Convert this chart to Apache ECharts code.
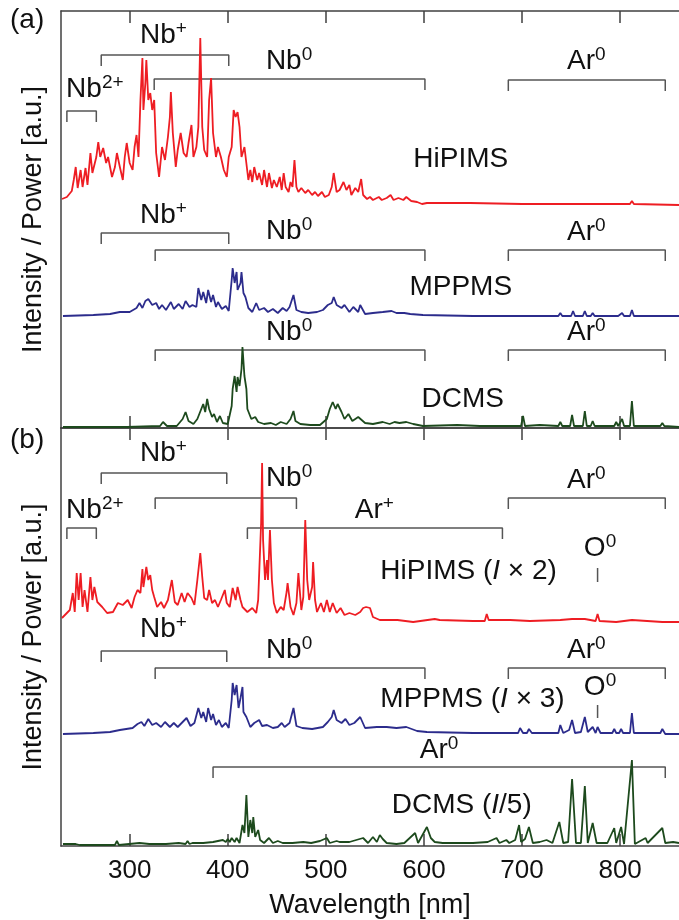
<!DOCTYPE html>
<html>
<head>
<meta charset="utf-8">
<title>Optical emission spectra: HiPIMS, MPPMS, DCMS</title>
<script src="https://cdn.jsdelivr.net/npm/echarts@6/dist/echarts.min.js"></script>
<style>
  html, body { margin: 0; padding: 0; background: #ffffff; }
  #chart { width: 679px; height: 920px; }
</style>
</head>
<body>
<div id="chart"></div>
<script>
// ---- Wavelength axis ----
const WL_MIN = 230;
const WL_MAX = 860;
const wlTicks = [300, 400, 500, 600, 700, 800];

// ---- Spectra: [wavelength nm, intensity a.u. above the trace's own baseline] ----
// Panel (a): intensity normalised by power
const hipimsA = [[231,6],[236,8],[241,14],[243,25],[245,38],[247,17],[250,35],[252,18],[255,37],[257,20],[260,52],[262,32],[266,48],[268,63],[270,48],[273,57],[276,42],[278,48],[282,28],[285,38],[287,52],[290,38],[293,25],[295,48],[297,62],[300,42],[303,35],[305,58],[307,70],[309,48],[311,105],[313,147],[314,95],[316,122],[317,145],[319,105],[321,112],[323,95],[325,105],[327,52],[330,28],[333,58],[336,45],[339,68],[341,88],[342,113],[344,72],[347,38],[349,55],[352,72],[355,52],[358,48],[360,62],[363,80],[365,48],[368,58],[370,78],[372,167],[374,78],[376,55],[379,48],[381,105],[383,127],[385,72],[388,48],[390,58],[393,48],[396,35],[399,28],[401,48],[404,58],[406,95],[408,88],[410,93],[412,78],[414,48],[417,58],[421,25],[423,35],[425,23],[427,38],[430,25],[432,32],[435,20],[437,35],[440,18],[442,32],[445,17],[447,25],[450,18],[453,28],[455,15],[457,32],[459,18],[462,13],[464,23],[466,18],[468,45],[470,18],[472,13],[475,17],[479,12],[482,15],[486,10],[489,13],[492,9],[496,13],[499,8],[503,10],[506,18],[508,32],[511,13],[514,15],[518,23],[521,15],[524,20],[526,10],[530,17],[533,13],[536,26],[538,10],[542,6],[545,8],[548,5],[554,8],[557,5],[562,7],[566,10],[569,5],[574,7],[579,5],[582,8],[587,4],[593,3],[598,1],[603,2],[647,2],[700,1],[750,1],[752,3],[754,1],[762,1],[764,3],[766,1],[810,1],[812,4],[814,1],[860,0]];
const mppmsA = [[232,0],[263,1],[280,2],[290,4],[300,4],[307,8],[310,13],[313,8],[316,15],[319,17],[323,11],[327,13],[330,7],[333,11],[337,6],[342,14],[345,7],[350,12],[354,7],[357,15],[361,9],[364,11],[368,9],[370,28],[373,16],[375,24],[378,13],[380,26],[383,14],[385,21],[388,9],[390,14],[394,7],[398,10],[401,5],[404,36],[405,48],[407,33],[409,44],[410,26],[413,33],[414,44],[416,23],[418,19],[421,8],[425,4],[429,13],[432,6],[437,8],[441,4],[446,7],[451,3],[456,8],[460,5],[463,9],[467,21],[470,6],[475,4],[482,3],[491,4],[497,6],[502,11],[506,13],[508,19],[511,11],[516,8],[519,11],[524,4],[528,9],[533,4],[535,11],[540,2],[548,3],[558,4],[567,5],[572,3],[580,3],[586,2],[599,1],[650,0],[696,0],[698,1],[700,0],[706,0],[708,1],[710,0],[737,0],[739,3],[741,0],[750,0],[752,5],[754,0],[762,0],[764,5],[766,0],[770,0],[772,3],[774,0],[794,0],[796,2],[798,0],[800,0],[802,3],[804,0],[810,0],[812,6],[814,0],[841,0],[843,1],[845,0],[860,0]];
const dcmsA = [[232,0],[297,0],[331,1],[334,5],[338,1],[348,1],[354,8],[357,15],[360,6],[365,3],[369,8],[373,18],[375,23],[377,15],[379,28],[381,18],[384,10],[386,13],[389,5],[392,11],[395,4],[400,3],[404,21],[405,38],[407,51],[409,35],[410,50],[412,41],[414,58],[415,80],[417,51],[419,38],[420,18],[424,8],[428,10],[431,5],[437,3],[444,4],[449,2],[454,5],[460,3],[464,8],[467,16],[469,6],[474,3],[484,2],[494,2],[501,8],[504,18],[507,25],[510,18],[512,23],[516,15],[519,8],[523,13],[527,6],[533,10],[535,11],[540,4],[548,3],[558,5],[565,3],[570,5],[575,4],[582,5],[589,3],[599,1],[634,2],[657,1],[699,1],[701,11],[703,1],[718,2],[737,1],[739,5],[741,1],[749,1],[751,12],[753,1],[762,1],[764,16],[766,1],[770,1],[772,6],[774,1],[794,1],[796,5],[798,1],[800,1],[802,8],[804,1],[810,1],[812,26],[814,1],[841,1],[843,4],[845,1],[860,0]];

// Panel (b): absolute intensity, scaled as labelled
const hipimsB = [[231,4],[236,9],[239,12],[242,29],[244,10],[246,49],[248,22],[250,49],[252,15],[254,32],[257,10],[260,45],[262,22],[264,35],[267,20],[272,15],[277,9],[283,10],[288,19],[293,17],[298,22],[302,14],[305,25],[308,32],[311,29],[313,53],[314,35],[317,55],[319,42],[321,47],[323,32],[325,25],[328,15],[332,20],[335,14],[339,22],[343,42],[346,20],[349,17],[353,29],[356,20],[359,29],[363,24],[366,17],[369,42],[372,69],[374,45],[376,24],[379,22],[381,32],[384,19],[387,22],[390,15],[393,22],[397,32],[399,19],[402,15],[405,34],[408,22],[410,35],[413,22],[415,15],[420,10],[425,14],[429,9],[431,22],[434,99],[435,159],[436,82],[438,42],[440,62],[441,42],[443,92],[445,42],[447,19],[450,9],[454,15],[457,12],[460,30],[461,39],[464,15],[467,7],[470,19],[472,49],[475,12],[477,25],[479,102],[481,42],[483,22],[486,35],[487,60],[489,22],[491,10],[495,19],[498,10],[501,22],[504,10],[507,19],[511,9],[515,14],[519,7],[524,9],[530,7],[535,10],[538,14],[541,15],[545,14],[548,5],[555,2],[573,2],[589,0],[611,3],[616,2],[650,1],[662,1],[664,8],[666,2],[688,2],[708,1],[739,2],[751,3],[764,3],[775,1],[777,8],[779,1],[796,0],[812,2],[843,0],[860,0]];
const mppmsB = [[232,0],[263,1],[280,2],[290,4],[303,6],[308,10],[312,12],[315,8],[319,15],[323,9],[327,11],[332,7],[336,12],[341,7],[345,11],[349,7],[354,12],[358,16],[362,8],[366,11],[370,26],[373,16],[375,22],[378,12],[380,26],[383,14],[385,20],[388,9],[391,14],[394,7],[398,11],[401,6],[404,34],[405,51],[407,39],[409,49],[411,26],[413,36],[415,47],[416,22],[419,17],[423,7],[427,11],[432,14],[435,8],[440,9],[446,6],[451,7],[455,11],[458,7],[463,11],[467,26],[470,8],[476,6],[486,5],[497,7],[502,12],[506,17],[508,24],[511,14],[516,11],[520,15],[524,9],[529,11],[535,17],[540,6],[552,7],[562,7],[572,6],[582,7],[593,3],[603,2],[650,1],[684,1],[696,1],[698,6],[701,1],[705,1],[707,5],[710,1],[737,1],[739,9],[742,1],[748,4],[751,14],[754,1],[760,2],[764,17],[767,2],[772,7],[775,1],[777,7],[780,1],[792,1],[794,5],[796,1],[799,1],[801,5],[803,1],[810,1],[812,21],[814,1],[827,1],[841,1],[843,5],[846,0],[860,0]];
const dcmsB = [[232,1],[245,1],[247,2],[249,0],[262,0],[264,2],[266,0],[285,0],[287,4],[289,0],[310,2],[320,1],[337,1],[350,2],[357,1],[359,4],[361,1],[364,2],[375,2],[385,3],[395,5],[398,3],[400,6],[402,3],[404,7],[407,3],[409,7],[412,2],[415,20],[417,12],[419,50],[421,8],[423,25],[425,12],[426,28],[428,8],[431,15],[433,5],[437,2],[442,7],[446,2],[451,4],[456,2],[466,2],[477,3],[485,2],[494,4],[501,7],[504,2],[511,4],[514,3],[524,3],[538,7],[543,2],[548,8],[552,3],[555,10],[558,6],[562,2],[572,1],[580,2],[591,12],[594,2],[603,18],[607,7],[611,3],[619,2],[634,2],[650,2],[665,3],[674,7],[677,2],[684,5],[687,2],[693,5],[697,20],[699,3],[703,6],[707,18],[711,2],[718,3],[725,5],[731,2],[738,23],[742,2],[747,3],[751,66],[755,2],[760,2],[764,59],[767,2],[772,22],[776,2],[787,2],[794,17],[796,2],[801,18],[804,1],[812,85],[815,1],[826,7],[828,2],[843,17],[846,2],[854,3],[860,2]];

// Vertical stacking offset of each trace (HiPIMS, MPPMS, DCMS)
const offsetsA = [223, 112, 1];
const offsetsB = [224, 112, 1];

// Emission-line groups: [from nm, to nm, level]
const groupsA = [[236,266,317],[271,401,373],[325,601,349],[686,846,348],[271,401,195],[326,601,178],[686,846,178],[326,601,78],[686,846,78]];
const groupsB = [[271,399,373],[326,470,348],[236,266,318],[420,680,318],[686,846,348],[271,399,195],[326,601,178],[686,846,178],[385,846,79]];
// Single-line markers: [nm, from level, to level]
const linesB = [[777,264,278],[777,128,141]];

// Annotation texts: [rich text, nm, level]
const labelsA = [
  ['{t|Nb}{s|2+}', 265, 338], ['{t|Nb}{s|+}', 335, 392], ['{t|Nb}{s|0}', 463, 366], ['{t|Ar}{s|0}', 766, 366],
  ['{t|HiPIMS}', 638, 268],
  ['{t|Nb}{s|+}', 335, 212], ['{t|Nb}{s|0}', 463, 196], ['{t|Ar}{s|0}', 766, 195],
  ['{t|MPPMS}', 638, 140],
  ['{t|Nb}{s|0}', 463, 95], ['{t|Ar}{s|0}', 766, 95],
  ['{t|DCMS}', 640, 28]
];
const labelsB = [
  ['{t|Nb}{s|+}', 335, 392], ['{t|Nb}{s|0}', 463, 367], ['{t|Nb}{s|2+}', 265, 335], ['{t|Ar}{s|+}', 550, 335],
  ['{t|Ar}{s|0}', 766, 365], ['{t|HiPIMS (}{i|I}{t| × 2)}', 646, 274], ['{t|O}{s|0}', 780, 297],
  ['{t|Nb}{s|+}', 335, 216], ['{t|Nb}{s|0}', 463, 195], ['{t|Ar}{s|0}', 766, 195],
  ['{t|MPPMS (}{i|I}{t| × 3)}', 650, 146], ['{t|O}{s|0}', 780, 158],
  ['{t|Ar}{s|0}', 616, 95], ['{t|DCMS (}{i|I}{t|/5)}', 639, 40]
];

// ---- Styling ----
const FONT = '"Liberation Sans", Arial, Helvetica, sans-serif';
const TEXT = '#111111';
const AXIS = '#404040';
const BRACKET = '#555555';
const COLORS = ['#ee1d23', '#2c2c8c', '#1d4a1d'];
const DROP = 11;

const rich = {
  t: { fontSize: 28, fontFamily: FONT, color: TEXT, lineHeight: 32, textBorderWidth: 0 },
  i: { fontSize: 28, fontFamily: FONT, color: TEXT, lineHeight: 32, fontStyle: 'italic', textBorderWidth: 0 },
  s: { fontSize: 19, fontFamily: FONT, color: TEXT, lineHeight: 19, verticalAlign: 'top', textBorderWidth: 0 }
};

function spectrum(data, offset, color, panel) {
  return {
    type: 'line', xAxisIndex: panel === 0 ? 0 : 3, yAxisIndex: panel,
    data: data.map(p => [p[0], p[1] + offset]),
    showSymbol: false, symbol: 'none', silent: true,
    lineStyle: { color: color, width: 1.8 }, z: 3
  };
}
function bracket(g, panel) {
  return {
    type: 'line', xAxisIndex: panel === 0 ? 0 : 3, yAxisIndex: panel,
    data: [[g[0], g[2] - DROP], [g[0], g[2]], [g[1], g[2]], [g[1], g[2] - DROP]],
    showSymbol: false, symbol: 'none', silent: true,
    lineStyle: { color: BRACKET, width: 1.5 }, z: 2
  };
}
function marker(m, panel) {
  return {
    type: 'line', xAxisIndex: panel === 0 ? 0 : 3, yAxisIndex: panel,
    data: [[m[0], m[1]], [m[0], m[2]]],
    showSymbol: false, symbol: 'none', silent: true,
    lineStyle: { color: BRACKET, width: 1.5 }, z: 2
  };
}
function texts(list, panel) {
  return {
    type: 'scatter', xAxisIndex: panel === 0 ? 0 : 3, yAxisIndex: panel,
    symbolSize: 1, itemStyle: { color: '#ffffff' }, silent: true, z: 5,
    data: list.map(l => ({
      value: [l[1], l[2]],
      label: {
        show: true, position: [0, 0], formatter: l[0], rich: rich,
        align: 'center', verticalAlign: 'middle', color: TEXT, opacity: 1,
        textBorderWidth: 0
      }
    }))
  };
}

const tickStyle = { show: true, inside: true, length: 12, customValues: wlTicks, lineStyle: { color: AXIS, width: 1.5 } };
function wlAxis(grid, position, withLabels) {
  const ax = {
    type: 'value', gridIndex: grid, position: position, min: WL_MIN, max: WL_MAX,
    axisLine: { show: true, onZero: false, lineStyle: { color: AXIS, width: 1.5 } },
    axisTick: tickStyle, splitLine: { show: false },
    axisLabel: { show: false }
  };
  if (withLabels) {
    ax.axisLabel = { show: true, customValues: wlTicks, fontSize: 26, fontFamily: FONT, color: TEXT, margin: 12 };
    ax.name = 'Wavelength [nm]';
    ax.nameLocation = 'middle';
    ax.nameGap = 46;
    ax.nameTextStyle = { fontSize: 27, fontFamily: FONT, color: TEXT };
  }
  return ax;
}
function intensityAxis(grid, max) {
  return {
    type: 'value', gridIndex: grid, min: 0, max: max,
    axisLine: { show: true, onZero: false, lineStyle: { color: AXIS, width: 1.5 } },
    axisTick: { show: false }, axisLabel: { show: false }, splitLine: { show: false },
    name: 'Intensity / Power [a.u.]', nameLocation: 'middle', nameRotate: 90, nameGap: 14,
    nameTextStyle: { fontSize: 27, fontFamily: FONT, color: TEXT }
  };
}

const series = [];
[hipimsA, mppmsA, dcmsA].forEach((d, k) => series.push(spectrum(d, offsetsA[k], COLORS[k], 0)));
[hipimsB, mppmsB, dcmsB].forEach((d, k) => series.push(spectrum(d, offsetsB[k], COLORS[k], 1)));
groupsA.forEach(g => series.push(bracket(g, 0)));
groupsB.forEach(g => series.push(bracket(g, 1)));
linesB.forEach(m => series.push(marker(m, 1)));
series.push(texts(labelsA, 0));
series.push(texts(labelsB, 1));

const chart = echarts.init(document.getElementById('chart'), null, { renderer: 'canvas' });
chart.setOption({
  animation: false,
  backgroundColor: '#ffffff',
  grid: [
    { left: 61, right: 0, top: 11, height: 417 },
    { left: 61, right: 0, top: 428, height: 418 }
  ],
  xAxis: [wlAxis(0, 'bottom', false), wlAxis(0, 'top', false), wlAxis(1, 'top', false), wlAxis(1, 'bottom', true)],
  yAxis: [intensityAxis(0, 417), intensityAxis(1, 418)],
  graphic: [
    { type: 'text', left: 10, top: 6, style: { text: '(a)', fontSize: 28, fontFamily: FONT, fill: TEXT } },
    { type: 'text', left: 10, top: 426, style: { text: '(b)', fontSize: 28, fontFamily: FONT, fill: TEXT } }
  ],
  series: series
});
</script>
</body>
</html>
